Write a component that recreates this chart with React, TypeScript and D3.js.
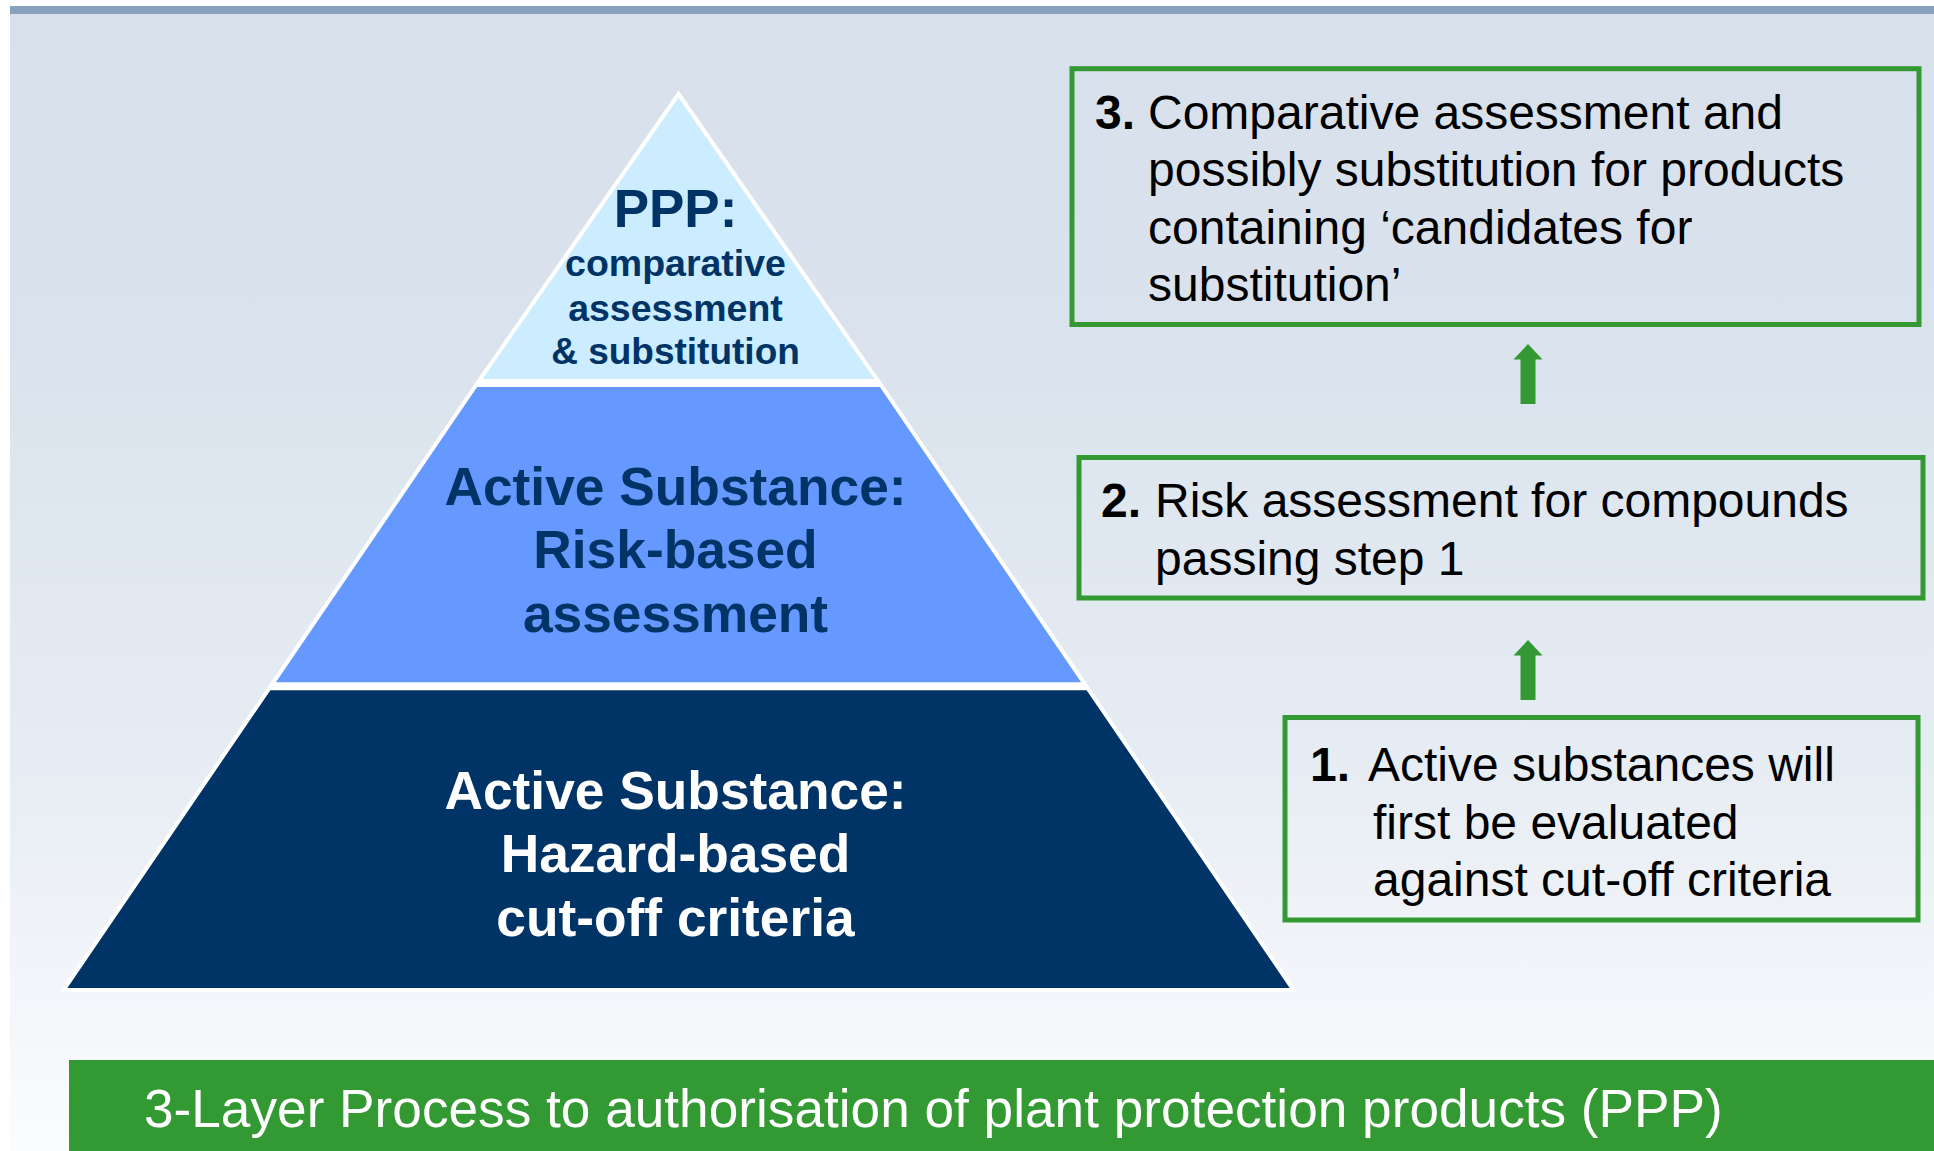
import React from 'react';
import * as d3 from 'd3';

// ---------- data ----------
const layerLines: string[][] = [
  ['PPP:', 'comparative', 'assessment', '& substitution'],
  ['Active Substance:', 'Risk-based', 'assessment'],
  ['Active Substance:', 'Hazard-based', 'cut-off criteria'],
];
// cumulative share of the pyramid height (apex = 0, base = 1)
const layerBreaks: number[] = [0, 0.3225, 0.661, 1];

const stepNumbers: string[] = ['1.', '2.', '3.'];
const stepTexts: string[][] = [
  ['Active substances will', 'first be evaluated', 'against cut-off criteria'],
  ['Risk assessment for compounds', 'passing step 1'],
  ['Comparative assessment and', 'possibly substitution for products', 'containing \u2018candidates for', 'substitution\u2019'],
];
const caption = '3-Layer Process to authorisation of plant protection products (PPP)';

// ---------- styles / layout ----------
const W = 1934;
const H = 1151;
const FONT = "'Liberation Sans', Arial, Helvetica, sans-serif";
const GREEN = '#339933';
const layerFills = ['#ccecff', '#6699ff', '#003366'];
const layerTextFills = ['#003366', '#003366', '#ffffff'];
const layerFontSizes = [[53, 37.5, 37.5, 37], [53.3, 53.3, 53.3], [53.3, 53.3, 53.3]];
const layerBaselines = [[227, 276, 321, 363.5], [504.5, 568, 631.5], [808.5, 872, 935.5]];

const boxes = [
  { x0: 1285, y0: 717.5, x1: 1918, y1: 920, numDx: 25, textDx: 83, contDx: 88, firstDy: 63.5 },
  { x0: 1079, y0: 457.5, x1: 1923, y1: 598, numDx: 22, textDx: 76, contDx: 76, firstDy: 59.5 },
  { x0: 1072, y0: 68.7, x1: 1919, y1: 324.5, numDx: 23, textDx: 76, contDx: 76, firstDy: 59.8 },
];
const arrows = [
  { x: 1528, tip: 640, bottom: 700 },
  { x: 1528, tip: 344, bottom: 404 },
];

export default function App() {
  const cx = 678.5;
  const textCx = 675.5;
  const y = d3.scaleLinear().domain([0, 1]).range([94, 990]);
  const half = d3.scaleLinear().domain([0, 0.3225, 1]).range([0, 201, 615]);
  const line = d3.line<[number, number]>().curve(d3.curveLinearClosed);
  const gap = 2;

  const layers = layerLines.map((lines, i) => {
    const a = layerBreaks[i];
    const b = layerBreaks[i + 1];
    const ya = y(a) + (i === 0 ? 0 : gap);
    const yb = y(b) - (i === 2 ? 0 : gap);
    const ha = half(y.invert(ya));
    const hb = half(y.invert(yb));
    const pts: [number, number][] =
      i === 0
        ? [[cx, ya], [cx + hb, yb], [cx - hb, yb]]
        : [[cx - ha, ya], [cx + ha, ya], [cx + hb, yb], [cx - hb, yb]];
    return { lines, d: line(pts) as string, i };
  });

  const arrowPath = (ar: { x: number; tip: number; bottom: number }) => {
    const headH = 15.5, headHalf = 14.5, shaftHalf = 7.5;
    const pts: [number, number][] = [
      [ar.x, ar.tip],
      [ar.x + headHalf, ar.tip + headH],
      [ar.x + shaftHalf, ar.tip + headH],
      [ar.x + shaftHalf, ar.bottom],
      [ar.x - shaftHalf, ar.bottom],
      [ar.x - shaftHalf, ar.tip + headH],
      [ar.x - headHalf, ar.tip + headH],
    ];
    return line(pts) as string;
  };

  const LH = 57.5;

  return (
    <svg
      width={W}
      height={H}
      viewBox={`0 0 ${W} ${H}`}
      style={{ position: 'absolute', left: 0, top: 0, display: 'block', background: '#ffffff' }}
      fontFamily={FONT}
    >
      <defs>
        <linearGradient id="bg" x1="0" y1="0" x2="0" y2="1">
          <stop offset="0" stopColor="#d8e1eb" />
          <stop offset="0.3" stopColor="#dae3ed" />
          <stop offset="0.65" stopColor="#e6ecf3" />
          <stop offset="1" stopColor="#fbfcfe" />
        </linearGradient>
      </defs>
      <rect x={10} y={6} width={W - 10} height={H - 6} fill="url(#bg)" />
      <rect x={10} y={6} width={W - 10} height={8} fill="#87a0bd" />

      {layers.map((l) => (
        <g key={l.i}>
          <path d={l.d} fill={layerFills[l.i]} stroke="#ffffff" strokeWidth={4} strokeLinejoin="miter" />
          {l.lines.map((t, j) => (
            <text
              key={j}
              x={textCx}
              y={layerBaselines[l.i][j]}
              textAnchor="middle"
              fontWeight="bold"
              fontSize={layerFontSizes[l.i][j]}
              fill={layerTextFills[l.i]}
            >
              {t}
            </text>
          ))}
        </g>
      ))}

      {boxes.map((b, i) => (
        <g key={i}>
          <rect x={b.x0} y={b.y0} width={b.x1 - b.x0} height={b.y1 - b.y0} fill="none" stroke={GREEN} strokeWidth={5} />
          <text x={b.x0 + b.numDx} y={b.y0 + b.firstDy} fontSize={48} fontWeight="bold" fill="#000">
            {stepNumbers[i]}
          </text>
          {stepTexts[i].map((t, j) => (
            <text key={j} x={b.x0 + (j === 0 ? b.textDx : b.contDx)} y={b.y0 + b.firstDy + j * LH} fontSize={48} fill="#000">
              {t}
            </text>
          ))}
        </g>
      ))}

      {arrows.map((a, i) => (
        <path key={i} d={arrowPath(a)} fill={GREEN} />
      ))}

      <rect x={69} y={1060} width={W - 69} height={H - 1060} fill={GREEN} />
      <text x={144} y={1127} fontSize={53.2} fill="#ffffff">
        {caption}
      </text>
    </svg>
  );
}
